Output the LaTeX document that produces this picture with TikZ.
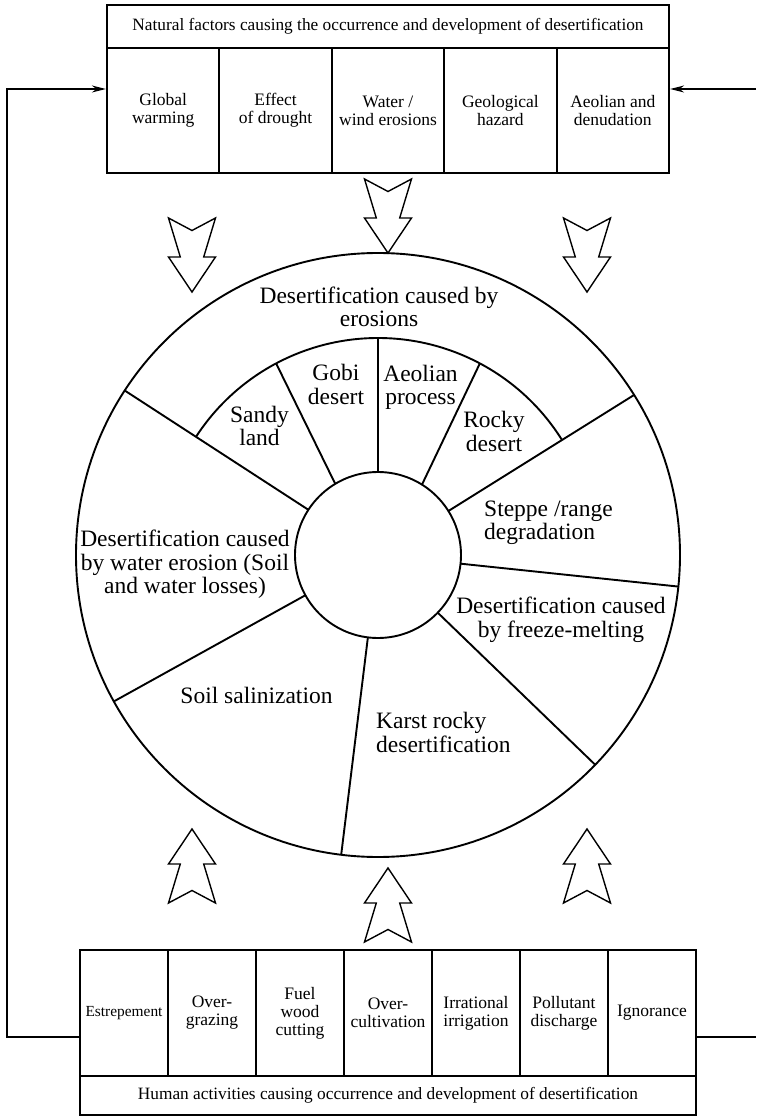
\documentclass[tikz,border=0pt]{standalone}
\usepackage{fontspec}
\setmainfont{Liberation Serif}
\usetikzlibrary{arrows.meta}

\begin{document}
\begin{tikzpicture}[x=1pt, y=1pt,
  topcell/.style={draw, line width=2.2pt, minimum width=112.4pt, minimum height=125pt, align=center, inner sep=0pt, font=\fontsize{17.5}{18}\selectfont},
  botcell/.style={draw, line width=2.2pt, minimum width=88pt, minimum height=126pt, align=center, inner sep=0pt, font=\fontsize{17.5}{18}\selectfont},
  titlebox/.style={draw, line width=2.2pt, inner sep=0pt, font=\fontsize{17.3}{18}\selectfont},
  wheel/.style={align=center, inner sep=0pt, font=\fontsize{23.5}{23.5}\selectfont},
  ring/.style={line width=1.9pt},
  feed/.style={line width=1.6pt},
  hollowarrow/.pic={\draw[line width=1.4pt, fill=white, line join=miter]
    (-23.5,0) -- (0,-12.5) -- (23.5,0) -- (11.7,-39) -- (23.5,-39) -- (0,-74)
    -- (-23.5,-39) -- (-11.7,-39) -- cycle;}]
  \useasboundingbox (-378,-562) rectangle (378,555);

  % Natural factors
  \node[titlebox, minimum width=562pt, minimum height=43pt] (natural) at (10,528.5)
    {Natural factors causing the occurrence and development of desertification};
  \node[topcell] (warming) at (-214.8,444.5) {Global\\warming};
  \node[topcell] (drought) at (-102.4,444.5) {Effect\\of drought};
  \node[topcell] (erodes) at (10,444.5) {Water /\\wind erosions};
  \node[topcell] (hazard) at (122.4,444.5) {Geological\\hazard};
  \node[topcell] (denude) at (234.8,444.5) {Aeolian and\\denudation};

  % Human activities
  \node[botcell] (estrep) at (-254,-458) {\fontsize{15.4}{18}\selectfont Estrepement};
  \node[botcell] (grazing) at (-166,-458) {Over-\\grazing};
  \node[botcell] (fuel) at (-78,-458) {Fuel\\wood\\cutting};
  \node[botcell] (cultiv) at (10,-458) {Over-\\cultivation};
  \node[botcell] (irrig) at (98,-458) {Irrational\\irrigation};
  \node[botcell] (pollut) at (186,-458) {Pollutant\\discharge};
  \node[botcell] (ignor) at (274,-458) {Ignorance};
  \node[titlebox, minimum width=616pt, minimum height=39pt] (human) at (10,-540.5)
    {Human activities causing occurrence and development of desertification};

  % Wheel
  \draw[ring] (0,0) circle (302);
  \draw[ring] (0,0) circle (83);
  \draw[ring] (32:217) arc (32:147:217);
  \foreach \a in {147, 32, -6, -44, -97, 209}
    \draw[ring] (\a:83) -- (\a:302);
  \draw[ring] (121:83) -- (118:217);
  \draw[ring] (90:83) -- (90:217);
  \draw[ring] (58:83) -- (62:217);

  \node[wheel] (erosion) at (1,248.3) {Desertification caused by\\erosions};
  \node[wheel] (sandy) at (-118.5,129) {Sandy\\land};
  \node[wheel] (gobi) at (-42,170.5) {Gobi\\desert};
  \node[wheel] (aeolian) at (42.5,167.5) {Aeolian\\process};
  \node[wheel] (rocky) at (116,123.5) {Rocky\\desert};
  \node[wheel, anchor=west, align=left] (steppe) at (106,32) {Steppe /range\\degradation};
  \node[wheel] (water) at (-193,-9.5) {Desertification caused\\by water erosion (Soil\\and water losses)};
  \node[wheel] (freeze) at (183,-65) {Desertification caused\\by freeze-melting};
  \node[wheel] (salin) at (-121.5,-140) {Soil salinization};
  \node[wheel, anchor=west, align=left] (karst) at (-2,-177.5) {Karst rocky\\desertification};

  % Hollow arrows
  \pic at (10,376) {hollowarrow};
  \pic at (-186,337) {hollowarrow};
  \pic at (209,337) {hollowarrow};
  \pic[rotate=180] at (-186,-348) {hollowarrow};
  \pic[rotate=180] at (209,-348) {hollowarrow};
  \pic[rotate=180] at (10,-387) {hollowarrow};

  % Feedback lines
  \coordinate (leftrail) at (-371,0);
  \coordinate (feedtop) at (0,466);
  \coordinate (feedbot) at (0,-482);
  \coordinate (rimtop) at (378,466);
  \coordinate (rimbot) at (378,-482);
  \draw[feed, -{Stealth[length=14pt, width=7pt]}] (estrep.west |- feedbot) -| (leftrail) |- (warming.west |- feedtop);
  \draw[feed, -{Stealth[length=14pt, width=7pt]}] (rimtop) -- (denude.east |- feedtop);
  \draw[feed] (ignor.east |- feedbot) -- (rimbot);
\end{tikzpicture}
\end{document}
